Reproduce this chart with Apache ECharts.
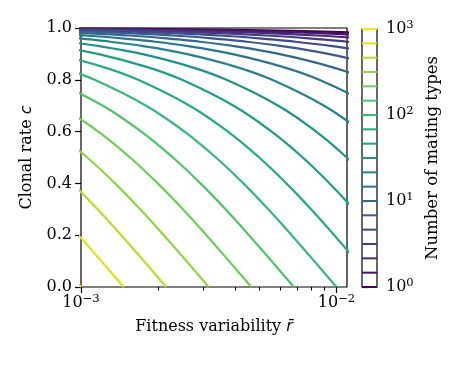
<!DOCTYPE html>
<html>
<head>
<meta charset="utf-8">
<script src="https://cdn.jsdelivr.net/npm/echarts@6/dist/echarts.min.js"></script>
<style>
html, body { margin: 0; padding: 0; background: #fff; }
#chart { width: 457px; height: 366px; }
</style>
</head>
<body>
<div id="chart"></div>
<script>
// contour levels (number of mating types), six per decade
const levels = [1, 1.468, 2.154, 3.162, 4.642, 6.813, 10, 14.68, 21.54, 31.62, 46.42, 68.13, 100, 146.8, 215.4, 316.2, 464.2, 681.3, 1000]

// contour lines, [r, c] pairs, one list per level
const lv0 = [[0.044563, 0.96], [0.026123, 0.97], [0.014126, 0.98], [0.009655, 0.985], [0.005884, 0.99], [0.002706, 0.995], [0.001031, 0.998], [0.000508, 0.999]]
const lv1 = [[0.031694, 0.95], [0.022041, 0.96], [0.014491, 0.97], [0.008538, 0.98], [0.006043, 0.985], [0.003801, 0.99], [0.001798, 0.995], [0.000695, 0.998]]
const lv2 = [[0.028358, 0.93], [0.01715, 0.95], [0.012661, 0.96], [0.008768, 0.97], [0.005404, 0.98], [0.003903, 0.985], [0.002502, 0.99], [0.001205, 0.995], [0.000471, 0.998]]
const lv3 = [[0.026156, 0.9], [0.015859, 0.93], [0.010244, 0.95], [0.00779, 0.96], [0.005548, 0.97], [0.003511, 0.98], [0.002567, 0.985], [0.001666, 0.99], [0.000812, 0.995]]
const lv4 = [[0.025763, 0.85], [0.015068, 0.9], [0.009629, 0.93], [0.006437, 0.95], [0.004978, 0.96], [0.003605, 0.97], [0.002318, 0.98], [0.001709, 0.985], [0.001118, 0.99], [0.000549, 0.995]]
const lv5 = [[0.021759, 0.8], [0.015247, 0.85], [0.00929, 0.9], [0.006108, 0.93], [0.004166, 0.95], [0.003255, 0.96], [0.002381, 0.97], [0.001547, 0.98], [0.001146, 0.985], [0.000754, 0.99]]
const lv6 = [[0.021567, 0.7], [0.013397, 0.8], [0.009534, 0.85], [0.005944, 0.9], [0.003975, 0.93], [0.002745, 0.95], [0.002158, 0.96], [0.001589, 0.97], [0.00104, 0.98], [0.000773, 0.985]]
const lv7 = [[0.019142, 0.6], [0.013725, 0.7], [0.008566, 0.8], [0.006153, 0.85], [0.003888, 0.9], [0.002628, 0.93], [0.001829, 0.95], [0.001444, 0.96], [0.001068, 0.97], [0.000702, 0.98]]
const lv8 = [[0.020685, 0.4], [0.016427, 0.5], [0.01255, 0.6], [0.008946, 0.7], [0.0056, 0.8], [0.004045, 0.85], [0.00258, 0.9], [0.001755, 0.93], [0.001228, 0.95], [0.000972, 0.96]]
const lv9 = [[0.017266, 0.3], [0.013916, 0.4], [0.010975, 0.5], [0.008333, 0.6], [0.005921, 0.7], [0.003713, 0.8], [0.002692, 0.85], [0.001726, 0.9], [0.00118, 0.93], [0.000828, 0.95]]
const lv10 = [[0.017637, 0.1], [0.014412, 0.2], [0.011712, 0.3], [0.009401, 0.4], [0.007379, 0.5], [0.00558, 0.6], [0.003957, 0.7], [0.002485, 0.8], [0.001805, 0.85], [0.001162, 0.9], [0.000796, 0.93]]
const lv11 = [[0.014678, 0], [0.012014, 0.1], [0.009809, 0.2], [0.007955, 0.3], [0.006368, 0.4], [0.004984, 0.5], [0.003759, 0.6], [0.002662, 0.7], [0.001673, 0.8], [0.001217, 0.85], [0.000785, 0.9]]
const lv12 = [[0.01, 0], [0.008184, 0.1], [0.006678, 0.2], [0.005409, 0.3], [0.004321, 0.4], [0.003375, 0.5], [0.002541, 0.6], [0.001798, 0.7], [0.00113, 0.8], [0.000823, 0.85]]
const lv13 = [[0.006813, 0], [0.005575, 0.1], [0.004547, 0.2], [0.00368, 0.3], [0.002936, 0.4], [0.00229, 0.5], [0.001722, 0.6], [0.001218, 0.7], [0.000766, 0.8]]
const lv14 = [[0.004642, 0], [0.003798, 0.1], [0.003097, 0.2], [0.002505, 0.3], [0.001997, 0.4], [0.001556, 0.5], [0.001169, 0.6], [0.000826, 0.7]]
const lv15 = [[0.003162, 0], [0.002588, 0.1], [0.002109, 0.2], [0.001705, 0.3], [0.001359, 0.4], [0.001058, 0.5], [0.000795, 0.6]]
const lv16 = [[0.002154, 0], [0.001763, 0.1], [0.001437, 0.2], [0.001161, 0.3], [0.000925, 0.4]]
const lv17 = [[0.001468, 0], [0.001328, 0.05], [0.001201, 0.1], [0.001085, 0.15], [0.000979, 0.2]]
const lv18 = [[0.001, 0], [0.00098, 0.01]]
const contourLines = [lv0, lv1, lv2, lv3, lv4, lv5, lv6, lv7, lv8, lv9, lv10, lv11, lv12, lv13, lv14, lv15, lv16, lv17, lv18]

const xTicks = [0.001, 0.01]
const xMinorTicks = [0.002, 0.003, 0.004, 0.005, 0.006, 0.007, 0.008, 0.009]

const viridis = ['#440154', '#471365', '#482475', '#463480', '#414487', '#3b528b', '#355f8d', '#2f6c8e', '#2a788e', '#25848e',
    '#21918c', '#1e9c89', '#22a884', '#2fb47c', '#44bf70', '#5ec962', '#7ad151', '#9bd93c', '#bddf26', '#dfe318', '#fde725']
const levelColor = (v) => echarts.color.lerp(Math.log10(v) / 3, viridis)

const serif = 'DejaVu Serif'
const sup = (v) => {
    const e = Math.round(Math.log10(v))
    return '10{sup|' + (e < 0 ? '\u2212' + (-e) : e) + '}'
}
const supRich = {
    sup: { fontSize: 11.5, fontFamily: serif, color: '#000', verticalAlign: 'top', lineHeight: 12 }
}

const contourSeries = contourLines.map((pts, k) => ({
    type: 'line',
    xAxisIndex: 0,
    yAxisIndex: 0,
    data: pts,
    smooth: 0.4,
    showSymbol: false,
    silent: true,
    clip: true,
    lineStyle: { color: levelColor(levels[k]), width: 2.2 }
}))

const colorbarSeries = levels.map(v => ({
    type: 'line',
    xAxisIndex: 2,
    yAxisIndex: 1,
    data: [[0, v], [1, v]],
    showSymbol: false,
    silent: true,
    clip: true,
    lineStyle: { color: levelColor(v), width: 2 }
}))

const myechar = echarts.init(document.getElementById('chart'))
myechar.setOption({
    animation: false,
    backgroundColor: '#fff',
    grid: [
        { left: 81, top: 28, width: 266, height: 259, show: true, borderColor: '#000', borderWidth: 1.2, backgroundColor: 'transparent' },
        { left: 362, top: 29, width: 15, height: 258, show: true, borderColor: '#000', borderWidth: 1.2, backgroundColor: 'transparent' }
    ],
    xAxis: [
        {
            type: 'log',
            gridIndex: 0,
            logBase: 10,
            min: 0.001,
            max: 0.011,
            axisLine: { show: false },
            splitLine: { show: false },
            axisTick: { show: true, length: 6, customValues: xTicks, lineStyle: { color: '#000', width: 1.2 } },
            axisLabel: {
                customValues: xTicks,
                formatter: sup,
                margin: 6,
                fontFamily: serif,
                fontSize: 16,
                color: '#000',
                lineHeight: 20,
                rich: supRich
            },
            name: 'Fitness variability {i|r\u0304}',
            nameLocation: 'middle',
            nameGap: 32,
            nameTextStyle: {
                fontFamily: serif,
                fontSize: 16,
                color: '#000',
                verticalAlign: 'top',
                rich: { i: { fontFamily: 'DejaVu Sans', fontStyle: 'italic', fontSize: 16, color: '#000' } }
            }
        },
        {
            type: 'log',
            gridIndex: 0,
            logBase: 10,
            min: 0.001,
            max: 0.011,
            position: 'bottom',
            axisLine: { show: false },
            splitLine: { show: false },
            axisLabel: { show: false },
            axisTick: { show: true, length: 3.5, customValues: xMinorTicks, lineStyle: { color: '#000', width: 1 } }
        },
        { type: 'value', gridIndex: 1, min: 0, max: 1, show: false }
    ],
    yAxis: [
        {
            type: 'value',
            gridIndex: 0,
            min: 0,
            max: 1,
            interval: 0.2,
            axisLine: { show: false },
            splitLine: { show: false },
            axisTick: { show: true, length: 6, lineStyle: { color: '#000', width: 1.2 } },
            axisLabel: {
                formatter: v => v.toFixed(1),
                margin: 9,
                fontFamily: serif,
                fontSize: 16,
                color: '#000'
            },
            name: 'Clonal rate {i|c}',
            nameLocation: 'middle',
            nameRotate: 90,
            nameGap: 46,
            nameTextStyle: {
                fontFamily: serif,
                fontSize: 16,
                color: '#000',
                rich: { i: { fontFamily: 'DejaVu Sans', fontStyle: 'italic', fontSize: 16, color: '#000' } }
            }
        },
        {
            type: 'log',
            gridIndex: 1,
            logBase: 10,
            min: 1,
            max: 1000,
            position: 'right',
            axisLine: { show: false },
            splitLine: { show: false },
            axisTick: { show: true, length: 6, lineStyle: { color: '#000', width: 1.2 } },
            axisLabel: {
                formatter: sup,
                margin: 9,
                fontFamily: serif,
                fontSize: 16,
                color: '#000',
                lineHeight: 20,
                rich: supRich
            },
            name: 'Number of mating types',
            nameLocation: 'middle',
            nameRotate: 90,
            nameGap: 47,
            nameTextStyle: { fontFamily: serif, fontSize: 16.5, color: '#000' }
        }
    ],
    series: contourSeries.concat(colorbarSeries)
})
</script>
</body>
</html>
